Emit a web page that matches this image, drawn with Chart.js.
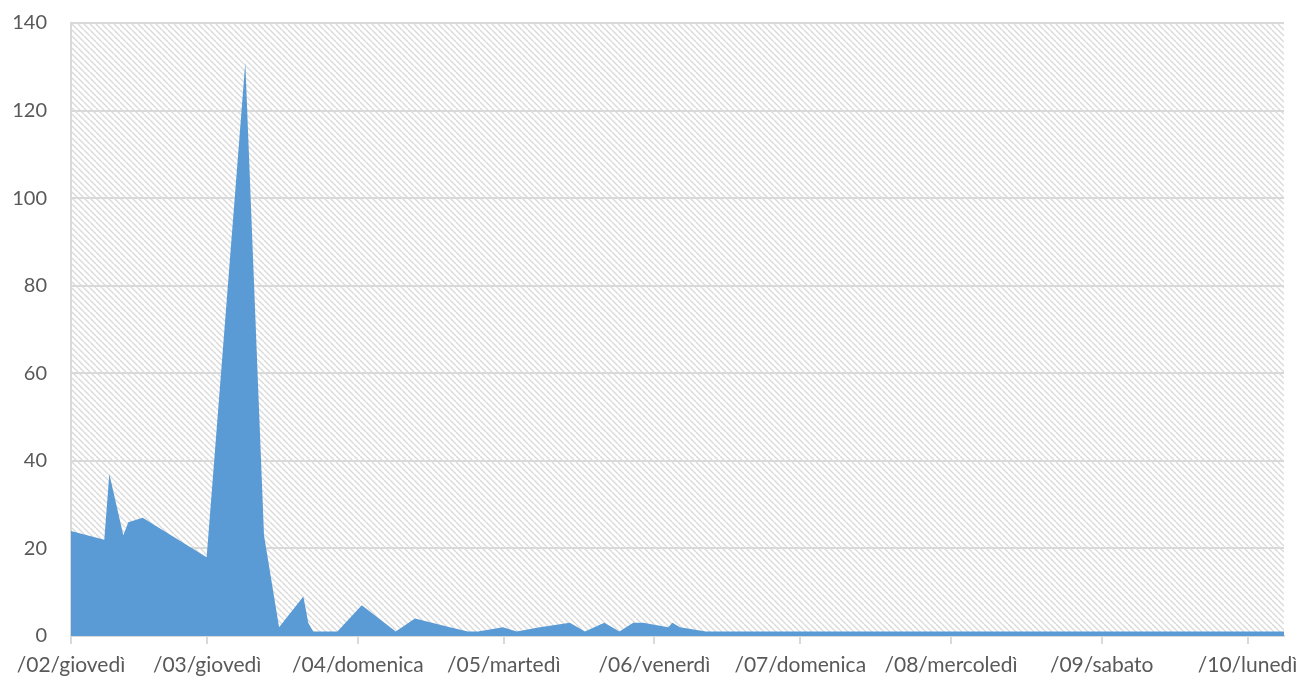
<!DOCTYPE html>
<html>
<head>
<meta charset="utf-8">
<script src="https://cdn.jsdelivr.net/npm/chart.js@4.4.0/dist/chart.umd.min.js"></script>
<style>
    body { margin: 0; background: #fff; }
    canvas { display: block; }
</style>
</head>
<body>
<canvas id="chart" width="1298" height="677"></canvas>
<script>
// days counted from 1 Feb
const days = [0, 6.85, 7.88, 10.76, 11.79, 14.75, 27.9, 35.85, 39.7, 42.8, 47.8, 48.8, 49.8, 54.8,
    59.8, 66.8, 70.75, 77.95, 81.65, 83.7, 88.85, 91.7, 96.45, 102.6, 105.7, 109.7, 112.8,
    115.65, 117.7, 122.85, 123.7, 125.25, 130.6, 249.5];
const values = [24, 22, 37, 23, 26, 27, 18, 131, 23, 2, 9, 3, 1, 1,
    7, 1, 4, 2, 1, 1, 2, 1, 2, 3, 1, 3, 1,
    3, 3, 2, 3, 2, 1, 1];

const tickDays = [0, 28, 59, 89, 120, 150, 181, 212, 242];
const tickLabels = ['/02/giovedì', '/03/giovedì', '/04/domenica', '/05/martedì', '/06/venerdì',
    '/07/domenica', '/08/mercoledì', '/09/sabato', '/10/lunedì'];

const yTicks = [0, 20, 40, 60, 80, 100, 120, 140];

const points = days.map((d, i) => ({ x: d, y: values[i] }));

function makeHatch() {
    const size = 6;
    const c = document.createElement('canvas');
    c.width = size;
    c.height = size;
    const g = c.getContext('2d');
    g.fillStyle = '#ffffff';
    g.fillRect(0, 0, size, size);
    g.strokeStyle = '#dadada';
    g.lineWidth = 1.4;
    g.beginPath();
    for (let off = -size; off <= size; off += size) {
        g.moveTo(off, 0);
        g.lineTo(off + size, size);
    }
    g.stroke();
    return g.createPattern(c, 'repeat');
}

const hatchPlugin = {
    id: 'hatch',
    beforeDraw(chart) {
        const a = chart.chartArea;
        const ctx = chart.ctx;
        ctx.save();
        ctx.fillStyle = makeHatch();
        ctx.fillRect(a.left, a.top, a.right - a.left, a.bottom - a.top);
        ctx.restore();
    }
};

const ctx = document.getElementById('chart').getContext('2d');
new Chart(ctx, {
    type: 'line',
    data: {
        datasets: [{
            data: points,
            fill: 'origin',
            backgroundColor: '#5b9bd5',
            borderWidth: 0,
            pointRadius: 0,
            tension: 0
        }]
    },
    options: {
        responsive: false,
        animation: false,
        layout: { padding: { top: 23, right: 14, left: 0, bottom: 0 } },
        plugins: { legend: { display: false }, tooltip: { enabled: false } },
        scales: {
            x: {
                type: 'linear',
                min: 0,
                max: 249.5,
                afterBuildTicks: (scale) => { scale.ticks = tickDays.map(v => ({ value: v })); },
                afterFit: (scale) => {
                    scale.height = 41;
                    scale.paddingLeft = 0;
                    scale.paddingRight = 0;
                },
                ticks: {
                    autoSkip: false,
                    maxRotation: 0,
                    padding: 9,
                    color: '#595959',
                    font: { family: 'Lato', size: 21 },
                    callback: (value) => {
                        const i = tickDays.indexOf(value);
                        return i >= 0 ? tickLabels[i] : '';
                    }
                },
                grid: {
                    drawOnChartArea: false,
                    drawTicks: true,
                    tickLength: 8,
                    color: '#d9d9d9',
                    lineWidth: 2
                },
                border: { display: true, color: '#d9d9d9', width: 2 }
            },
            y: {
                min: 0,
                max: 140,
                afterBuildTicks: (scale) => { scale.ticks = yTicks.map(v => ({ value: v })); },
                afterFit: (scale) => {
                    scale.width = 71;
                    scale.paddingTop = 0;
                    scale.paddingBottom = 0;
                },
                ticks: {
                    padding: 24,
                    color: '#595959',
                    font: { family: 'Lato', size: 20 }
                },
                grid: {
                    drawTicks: false,
                    color: '#d9d9d9',
                    lineWidth: 2
                },
                border: { display: true, color: '#d9d9d9', width: 2 }
            }
        }
    },
    plugins: [hatchPlugin]
});
</script>
</body>
</html>
